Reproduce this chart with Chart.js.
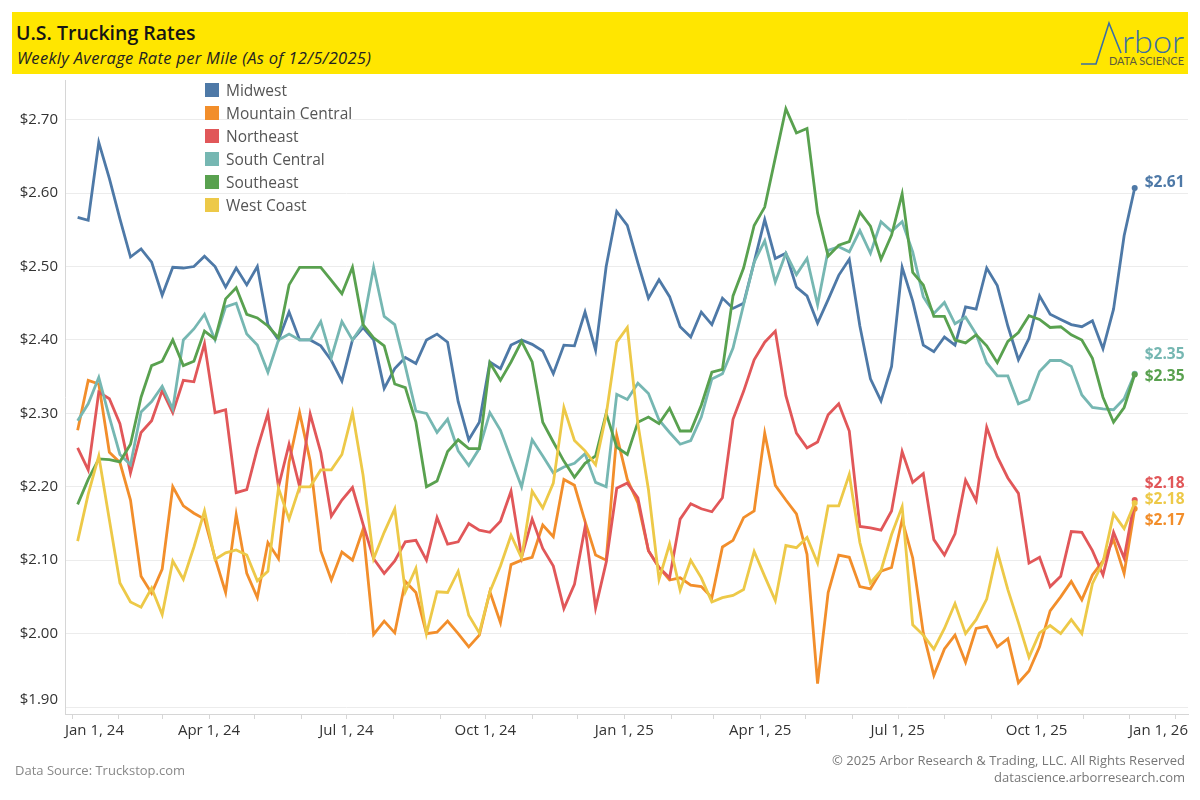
<!DOCTYPE html>
<html>
<head>
<meta charset="utf-8">
<script src="https://cdn.jsdelivr.net/npm/chart.js@4.4.1/dist/chart.umd.min.js"></script>
<style>
  body { margin: 0; background: #fff; }
  #wrap { position: relative; width: 1200px; height: 800px; overflow: hidden; font-family: "Open Sans", sans-serif; }
  #chart { position: absolute; left: 0; top: 0; }
  .header { position: absolute; left: 12px; top: 12px; width: 1176px; height: 62px; background: #ffe600; }
  .title { position: absolute; left: 4px; top: 7px; font-family: "Open Sans", sans-serif; font-size: 19.5px; font-weight: 600; color: #151515; }
  .subtitle { position: absolute; left: 5px; top: 34px; font-family: "Open Sans", sans-serif; font-size: 16.5px; letter-spacing: 0.3px; font-style: italic; color: #222; }
  .logo { position: absolute; right: 0; top: 0; }
  .legend { position: absolute; left: 205px; top: 83px; }
  .legend div { height: 23.1px; line-height: 15px; font-size: 15.5px; color: #555; white-space: nowrap; }
  .legend span { display: inline-block; width: 14px; height: 14px; vertical-align: top; margin-right: 7px; }
  .source { position: absolute; left: 15px; top: 761px; font-size: 13px; color: #888; }
  .rights { position: absolute; right: 15px; top: 752px; font-size: 13px; color: #777; text-align: right; line-height: 17px; }
</style>
</head>
<body>
<div id="wrap">
  <canvas id="chart" width="1200" height="800"></canvas>
  <div class="header">
    <div class="title">U.S. Trucking Rates</div>
    <div class="subtitle">Weekly Average Rate per Mile (As of 12/5/2025)</div>
    <svg class="logo" width="150" height="62">
      <polyline points="43,52 58,52 71,11 83,41" fill="none" stroke="#3a6ea5" stroke-width="1.6"/>
      <text x="84" y="41" font-family="Lato" font-weight="300" font-size="31" fill="#3a6ea5" textLength="62" lengthAdjust="spacingAndGlyphs">rbor</text>
      <text x="71" y="53" font-family="Lato" font-size="10.5" fill="#5c5a3c" textLength="75" lengthAdjust="spacingAndGlyphs">DATA SCIENCE</text>
    </svg>
  </div>
  <div class="legend" id="legend"></div>
  <div class="source">Data Source: Truckstop.com</div>
  <div class="rights">© 2025 Arbor Research &amp; Trading, LLC. All Rights Reserved<br>datascience.arborresearch.com</div>
</div>
<script>
// weekly series, first week ending 2024-01-05, last 2025-12-05
const firstWeek = "2024-01-05";

const midwest = [2.567, 2.563, 2.669, 2.62, 2.565, 2.513, 2.524, 2.506, 2.461, 2.499,
  2.498, 2.500, 2.514, 2.500, 2.472, 2.498, 2.475, 2.500, 2.421, 2.400,
  2.438, 2.400, 2.400, 2.392, 2.372, 2.344, 2.400, 2.417, 2.400, 2.334,
  2.361, 2.376, 2.368, 2.400, 2.408, 2.397, 2.316, 2.264, 2.288, 2.370,
  2.361, 2.393, 2.400, 2.394, 2.385, 2.354, 2.393, 2.392, 2.438, 2.386,
  2.500, 2.575, 2.556, 2.505, 2.457, 2.482, 2.459, 2.418, 2.404, 2.438,
  2.421, 2.457, 2.443, 2.450, 2.506, 2.564, 2.511, 2.518, 2.472, 2.460,
  2.423, 2.455, 2.488, 2.510, 2.419, 2.347, 2.317, 2.364, 2.499, 2.453,
  2.393, 2.384, 2.404, 2.393, 2.445, 2.442, 2.498, 2.474, 2.419, 2.373,
  2.402, 2.460, 2.435, 2.428, 2.421, 2.418, 2.426, 2.388, 2.442, 2.542, 2.607];

const mountainCentral = [2.277, 2.345, 2.340, 2.247, 2.233, 2.182, 2.078, 2.055, 2.088, 2.200,
  2.174, 2.164, 2.156, 2.103, 2.056, 2.162, 2.082, 2.049, 2.124, 2.102,
  2.233, 2.301, 2.235, 2.113, 2.073, 2.111, 2.100, 2.142, 1.999, 2.017,
  2.001, 2.071, 2.056, 2.000, 2.002, 2.017, 2.000, 1.982, 1.998, 2.057,
  2.015, 2.094, 2.100, 2.104, 2.148, 2.132, 2.210, 2.202, 2.153, 2.107,
  2.100, 2.270, 2.210, 2.178, 2.113, 2.090, 2.073, 2.076, 2.066, 2.064,
  2.049, 2.118, 2.127, 2.158, 2.167, 2.273, 2.202, 2.182, 2.163, 2.108,
  1.932, 2.056, 2.107, 2.104, 2.064, 2.061, 2.085, 2.090, 2.155, 2.103,
  2.001, 1.943, 1.979, 1.998, 1.961, 2.007, 2.010, 1.982, 1.993, 1.933,
  1.949, 1.982, 2.031, 2.050, 2.071, 2.046, 2.080, 2.099, 2.128, 2.082, 2.170];

const northeast = [2.253, 2.223, 2.329, 2.320, 2.286, 2.219, 2.274, 2.290, 2.331, 2.301,
  2.345, 2.343, 2.395, 2.301, 2.305, 2.192, 2.196, 2.252, 2.300, 2.200,
  2.258, 2.200, 2.299, 2.247, 2.160, 2.182, 2.199, 2.149, 2.102, 2.082,
  2.099, 2.125, 2.127, 2.100, 2.158, 2.122, 2.125, 2.150, 2.141, 2.138,
  2.153, 2.194, 2.104, 2.156, 2.116, 2.092, 2.034, 2.067, 2.145, 2.035,
  2.097, 2.198, 2.205, 2.185, 2.113, 2.090, 2.076, 2.156, 2.177, 2.170,
  2.166, 2.185, 2.292, 2.330, 2.373, 2.397, 2.412, 2.324, 2.273, 2.253,
  2.261, 2.298, 2.313, 2.276, 2.146, 2.144, 2.141, 2.167, 2.248, 2.206,
  2.218, 2.128, 2.107, 2.136, 2.209, 2.181, 2.281, 2.241, 2.212, 2.191,
  2.096, 2.104, 2.064, 2.078, 2.139, 2.138, 2.113, 2.080, 2.138, 2.103, 2.182];

const southCentral = [2.290, 2.313, 2.349, 2.295, 2.244, 2.230, 2.302, 2.316, 2.337, 2.306,
  2.400, 2.415, 2.435, 2.400, 2.445, 2.450, 2.408, 2.393, 2.356, 2.400,
  2.408, 2.400, 2.400, 2.425, 2.376, 2.425, 2.400, 2.421, 2.499, 2.432,
  2.421, 2.364, 2.303, 2.300, 2.274, 2.292, 2.249, 2.229, 2.252, 2.301,
  2.277, 2.238, 2.200, 2.264, 2.242, 2.219, 2.227, 2.232, 2.245, 2.206,
  2.200, 2.326, 2.319, 2.341, 2.327, 2.291, 2.274, 2.258, 2.263, 2.295,
  2.347, 2.354, 2.389, 2.448, 2.506, 2.535, 2.479, 2.518, 2.489, 2.511,
  2.448, 2.522, 2.527, 2.520, 2.549, 2.518, 2.561, 2.548, 2.561, 2.520,
  2.459, 2.436, 2.451, 2.422, 2.431, 2.408, 2.369, 2.351, 2.351, 2.313,
  2.319, 2.357, 2.372, 2.372, 2.364, 2.325, 2.308, 2.306, 2.305, 2.320, 2.354];

const southeast = [2.176, 2.210, 2.238, 2.237, 2.234, 2.258, 2.322, 2.365, 2.371, 2.400,
  2.365, 2.371, 2.412, 2.401, 2.456, 2.471, 2.435, 2.430, 2.419, 2.403,
  2.475, 2.499, 2.499, 2.499, 2.481, 2.463, 2.499, 2.421, 2.403, 2.392,
  2.340, 2.335, 2.288, 2.200, 2.208, 2.248, 2.264, 2.252, 2.252, 2.369,
  2.345, 2.370, 2.398, 2.370, 2.288, 2.261, 2.235, 2.213, 2.232, 2.242,
  2.300, 2.254, 2.244, 2.288, 2.295, 2.286, 2.307, 2.276, 2.276, 2.311,
  2.356, 2.360, 2.460, 2.498, 2.556, 2.581, 2.648, 2.715, 2.682, 2.688,
  2.573, 2.514, 2.529, 2.534, 2.574, 2.555, 2.510, 2.543, 2.599, 2.492,
  2.475, 2.432, 2.432, 2.400, 2.396, 2.407, 2.392, 2.369, 2.398, 2.410,
  2.433, 2.428, 2.417, 2.418, 2.407, 2.400, 2.375, 2.322, 2.288, 2.308, 2.353];

const westCoast = [2.126, 2.190, 2.242, 2.155, 2.069, 2.043, 2.036, 2.062, 2.026, 2.099,
  2.074, 2.118, 2.167, 2.101, 2.110, 2.114, 2.107, 2.072, 2.085, 2.198,
  2.156, 2.200, 2.200, 2.223, 2.223, 2.244, 2.301, 2.216, 2.102, 2.138,
  2.170, 2.057, 2.089, 2.000, 2.057, 2.056, 2.085, 2.025, 2.001, 2.057,
  2.092, 2.134, 2.103, 2.194, 2.171, 2.205, 2.308, 2.263, 2.249, 2.230,
  2.298, 2.397, 2.417, 2.286, 2.196, 2.074, 2.122, 2.059, 2.100, 2.076,
  2.043, 2.049, 2.052, 2.060, 2.112, 2.078, 2.045, 2.120, 2.117, 2.131,
  2.096, 2.174, 2.174, 2.217, 2.124, 2.069, 2.086, 2.135, 2.173, 2.012,
  1.998, 1.979, 2.007, 2.041, 2.000, 2.019, 2.047, 2.112, 2.060, 2.015,
  1.968, 2.001, 2.011, 2.000, 2.019, 2.000, 2.068, 2.097, 2.163, 2.143, 2.178];

const seriesNames = ["Midwest", "Mountain Central", "Northeast", "South Central", "Southeast", "West Coast"];
const seriesValues = [midwest, mountainCentral, northeast, southCentral, southeast, westCoast];
const seriesColors = ["#4e79a7", "#f28e2b", "#e15759", "#76b7b2", "#59a14f", "#edc948"];
// nudges so the end labels don't sit on top of each other
const endLabelShift = [-5, 12, -16, -19, 2, -3];

const yTicks = [1.9, 2.0, 2.1, 2.2, 2.3, 2.4, 2.5, 2.6, 2.7];
const xTickDates = ["2024-01-01", "2024-04-01", "2024-07-01", "2024-10-01", "2025-01-01",
  "2025-04-01", "2025-07-01", "2025-10-01", "2026-01-01"];
const xTickLabels = ["Jan 1, 24", "Apr 1, 24", "Jul 1, 24", "Oct 1, 24", "Jan 1, 25",
  "Apr 1, 25", "Jul 1, 25", "Oct 1, 25", "Jan 1, 26"];

function dayOffset(s) {
  const [y, m, d] = s.split("-").map(Number);
  return (Date.UTC(y, m - 1, d) - Date.UTC(2024, 0, 1)) / 86400000;
}

const weekDays = midwest.map((_, i) => dayOffset(firstWeek) + 7 * i);

// html legend
const legend = document.getElementById("legend");
seriesNames.forEach((name, i) => {
  const row = document.createElement("div");
  row.innerHTML = `<span style="background:${seriesColors[i]}"></span>${name}`;
  legend.appendChild(row);
});

const axisDecor = {
  id: "axisDecor",
  afterDraw(chart) {
    const ctx = chart.ctx;
    const area = chart.chartArea;
    const xs = chart.scales.x;
    const ys = chart.scales.y;
    ctx.save();

    // monthly tick marks under the axis
    ctx.strokeStyle = "#d6d6d6";
    ctx.lineWidth = 1;
    for (let y = 2024; y <= 2026; y++) {
      for (let m = 1; m <= 12; m++) {
        const d = dayOffset(`${y}-${m}-1`);
        if (d < xs.min || d > xs.max) continue;
        const px = Math.round(xs.getPixelForValue(d)) + 0.5;
        ctx.beginPath();
        ctx.moveTo(px, area.bottom);
        ctx.lineTo(px, area.bottom + 5);
        ctx.stroke();
      }
    }

    // x labels, kept inside the plot width
    ctx.font = '15px "Open Sans"';
    ctx.fillStyle = "#333";
    ctx.textAlign = "center";
    ctx.textBaseline = "middle";
    xTickDates.forEach((d, i) => {
      const w = ctx.measureText(xTickLabels[i]).width;
      let cx = xs.getPixelForValue(dayOffset(d));
      cx = Math.max(area.left + w / 2, Math.min(area.right - w / 2, cx));
      ctx.fillText(xTickLabels[i], cx, 731);
    });

    // y labels
    ctx.textAlign = "right";
    yTicks.forEach(v => {
      const py = Math.min(ys.getPixelForValue(v), area.bottom - 14);
      ctx.fillText("$" + v.toFixed(2), 58, py);
    });

    // end-of-line value labels
    ctx.font = 'bold 15.5px "Open Sans"';
    ctx.textAlign = "left";
    chart.data.datasets.forEach((ds, i) => {
      const meta = chart.getDatasetMeta(i);
      const pt = meta.data[meta.data.length - 1];
      const v = ds.data[ds.data.length - 1].y;
      ctx.fillStyle = seriesColors[i];
      ctx.fillText("$" + v.toFixed(2), pt.x + 10, pt.y + endLabelShift[i]);
    });
    ctx.restore();
  }
};

new Chart(document.getElementById("chart"), {
  type: "line",
  data: {
    datasets: seriesNames.map((name, i) => ({
      label: name,
      data: seriesValues[i].map((v, j) => ({ x: weekDays[j], y: v })),
      borderColor: seriesColors[i],
      backgroundColor: seriesColors[i],
      borderWidth: 2.8,
      tension: 0,
      fill: false,
      order: seriesNames.length - 1 - i,
      pointRadius: ctx => ctx.dataIndex === seriesValues[i].length - 1 ? 3 : 0,
      pointBorderWidth: 0
    }))
  },
  options: {
    responsive: false,
    animation: false,
    events: [],
    layout: { padding: { top: 80, right: 12, left: 0, bottom: 0 } },
    plugins: { legend: { display: false }, tooltip: { enabled: false } },
    scales: {
      x: {
        type: "linear",
        min: -4.37,
        max: 739.3,
        grid: { display: false },
        border: { color: "#d6d6d6" },
        ticks: { display: false },
        afterFit: s => { s.height = 86; }
      },
      y: {
        min: 1.8905,
        max: 2.7541,
        afterBuildTicks: s => { s.ticks = yTicks.map(v => ({ value: v })); },
        grid: { color: "#ececec", drawTicks: false },
        border: { color: "#d6d6d6" },
        ticks: { display: false },
        afterFit: s => { s.width = 65; }
      }
    }
  },
  plugins: [axisDecor]
});
</script>
</body>
</html>
